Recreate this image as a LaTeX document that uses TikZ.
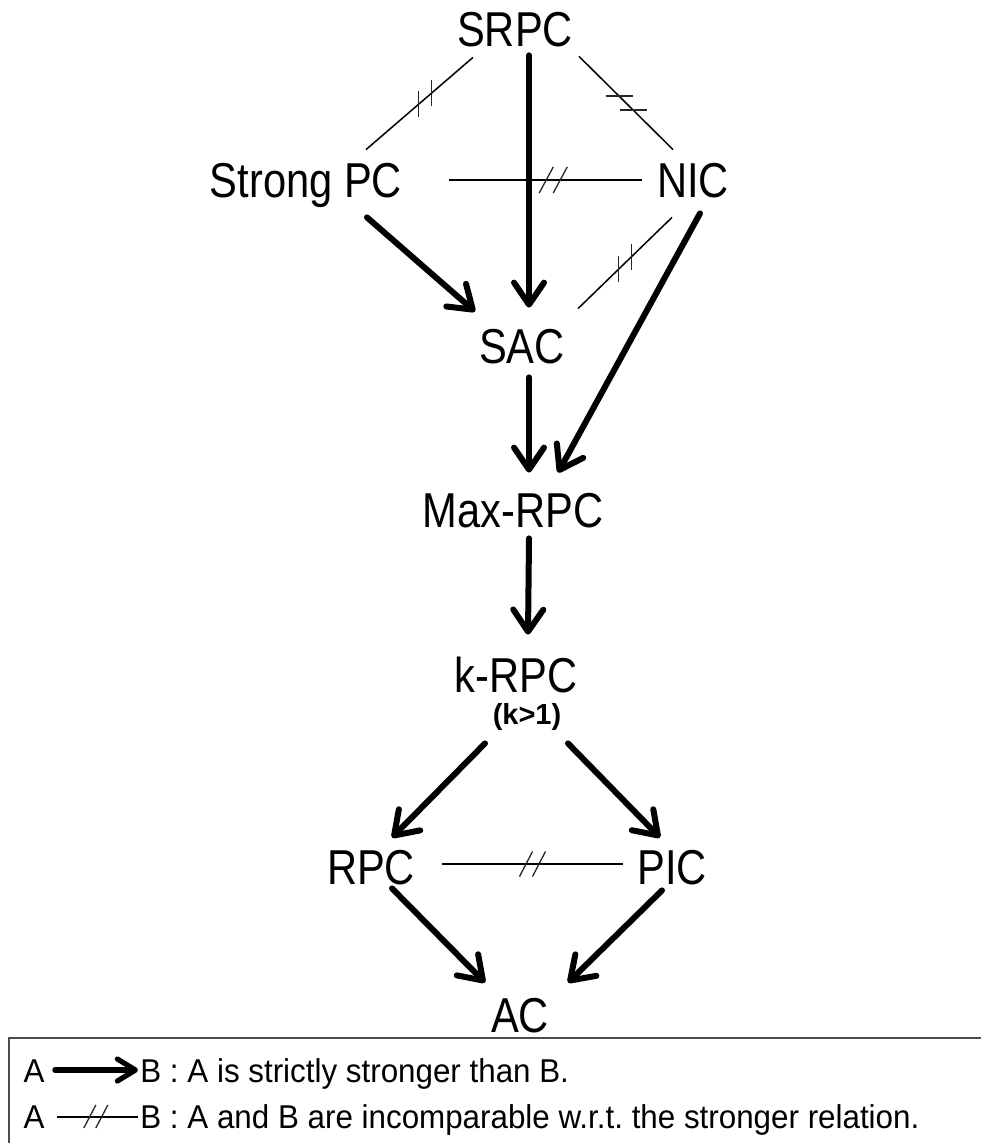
\documentclass[tikz,border=0pt]{standalone}
\usepackage{fontspec}
\setmainfont{Liberation Sans}[FakeStretch=0.85]
\newfontfamily\legfont{Liberation Sans}[FakeStretch=0.95]
\newfontfamily\condfont{Liberation Sans}
\usetikzlibrary{arrows.meta, calc}

\begin{document}
\frenchspacing
\begin{tikzpicture}[x=0.5pt, y=-0.5pt,
  lbl/.style={inner sep=0pt, font=\fontsize{24.5}{28}\selectfont, text height=17.5pt, text depth=0pt},
  leg/.style={inner sep=0pt, font=\legfont\fontsize{16.5}{20}\selectfont, text height=12pt, text depth=0pt},
  stronger/.style={line width=3pt, line cap=round, -{Straight Barb[length=11pt, width=15pt, line join=round, line cap=round]}},
  legarrow/.style={line width=2.6pt, line cap=round, -{Straight Barb[length=9pt, width=11pt, line join=round, line cap=round]}},
  incomp/.style={line width=0.75pt},
  incmark/.style={line width=0.65pt, black!85}]
  \useasboundingbox (0,0) rectangle (980,1143);

  % Consistencies
  \node[lbl] (srpc) at (515,29) {SRPC};
  \node[lbl] (strong) at (306,180) {Strong PC};
  \node[lbl] (nic) at (693,180) {NIC};
  \node[lbl] (sac) at (522,346) {SAC};
  \node[lbl] (maxrpc) at (513,510) {Max-RPC};
  \node[lbl] (krpc) at (516,675) {k-RPC};
  \node[inner sep=0pt, font=\condfont\bfseries\fontsize{14.5}{17}\selectfont] (kcond) at (527,717) {(k>1)};
  \node[lbl] (rpc) at (371,867) {RPC};
  \node[lbl] (pic) at (672,867) {PIC};
  \node[lbl] (ac) at (520,1015) {AC};

  % Strictly stronger
  \draw[stronger] ($(srpc.south)+(14,8.5)$) -- ($(sac.north)+(7,-20.5)$);
  \draw[stronger] ($(strong.south)+(61,19.5)$) -- ($(sac.north)+(-47,-16.5)$);
  \draw[stronger] ($(nic.south)+(7,15.5)$) -- ($(maxrpc.north)+(45,-19.5)$);
  \draw[stronger] ($(sac.south)+(7,13.5)$) -- ($(maxrpc.north)+(16,-19.5)$);
  \draw[stronger] ($(maxrpc.south)+(16,10.5)$) -- ($(krpc.north)+(12,-22.5)$);
  \draw[stronger] ($(krpc.south)+(-31,50.5)$) -- ($(rpc.north)+(21,-11.5)$);
  \draw[stronger] ($(krpc.south)+(52,50.5)$) -- ($(pic.north)+(-12,-11.5)$);
  \draw[stronger] ($(rpc.south)+(21,3.5)$) -- ($(ac.north)+(-35,-14.5)$);
  \draw[stronger] ($(pic.south)+(-10,5.5)$) -- ($(ac.north)+(48,-14.5)$);

  % Incomparable
  \draw[incomp] ($(srpc.south)+(-42,10.5)$) -- coordinate[pos=.45] (srpc-strong) ($(strong.north)+(60,-12.5)$);
  \draw[incmark] ($(srpc-strong)+(-6.5,-7.4)$) -- ++(0,26) ($(srpc-strong)+(6.5,-18.6)$) -- ++(0,26);
  \draw[incomp] ($(srpc.south)+(64,9.5)$) -- coordinate[pos=.5] (srpc-nic) ($(nic.north)+(-20,-12.5)$);
  \draw[incmark] ($(srpc-nic)+(-20.5,-7)$) -- ++(27,0) ($(srpc-nic)+(-6.5,7)$) -- ++(27,0);
  \draw[incomp] ($(strong)+(143,0)$) -- coordinate[pos=.54] (strong-nic) ($(nic)+(-51,0)$);
  \draw[incmark] ($(strong-nic)+(-14,13)$) -- ++(14,-26) ($(strong-nic)+(0,13)$) -- ++(14,-26);
  \draw[incomp] ($(sac.north)+(56,-19.5)$) -- coordinate[pos=.5] (sac-nic) ($(nic.south)+(-21,19.5)$);
  \draw[incmark] ($(sac-nic)+(-6.5,-6.6)$) -- ++(0,26) ($(sac-nic)+(6.5,-19.4)$) -- ++(0,26);
  \draw[incomp] ($(rpc)+(71,-3)$) -- coordinate[pos=.5] (rpc-pic) ($(pic)+(-49,-3)$);
  \draw[incmark] ($(rpc-pic)+(-13,12.5)$) -- ++(13,-25) ($(rpc-pic)+(0,12.5)$) -- ++(13,-25);

  % Legend
  \draw[line width=1.1pt, black!70] (990,1038) -- (9,1038) -- (9,1160);
  \node[leg] (la1) at (34,1070) {A};
  \node[leg, anchor=west] (lb1) at (140,1070) {B : A is strictly stronger than B.};
  \draw[legarrow] ($(la1.east)+(10,0)$) -- ($(lb1.west)+(-2,0)$);
  \node[leg] (la2) at (34,1116) {A};
  \node[leg, anchor=west] (lb2) at (140,1116) {B : A and B are incomparable w.r.t. the stronger relation.};
  \draw[incomp] ($(la2.east)+(12,1)$) -- coordinate[pos=.48] (leg-mid) ($(lb2.west)+(-2,1)$);
  \draw[incmark] ($(leg-mid)+(-12,11)$) -- ++(12,-23) ($(leg-mid)+(0,11)$) -- ++(12,-23);
\end{tikzpicture}
\end{document}
